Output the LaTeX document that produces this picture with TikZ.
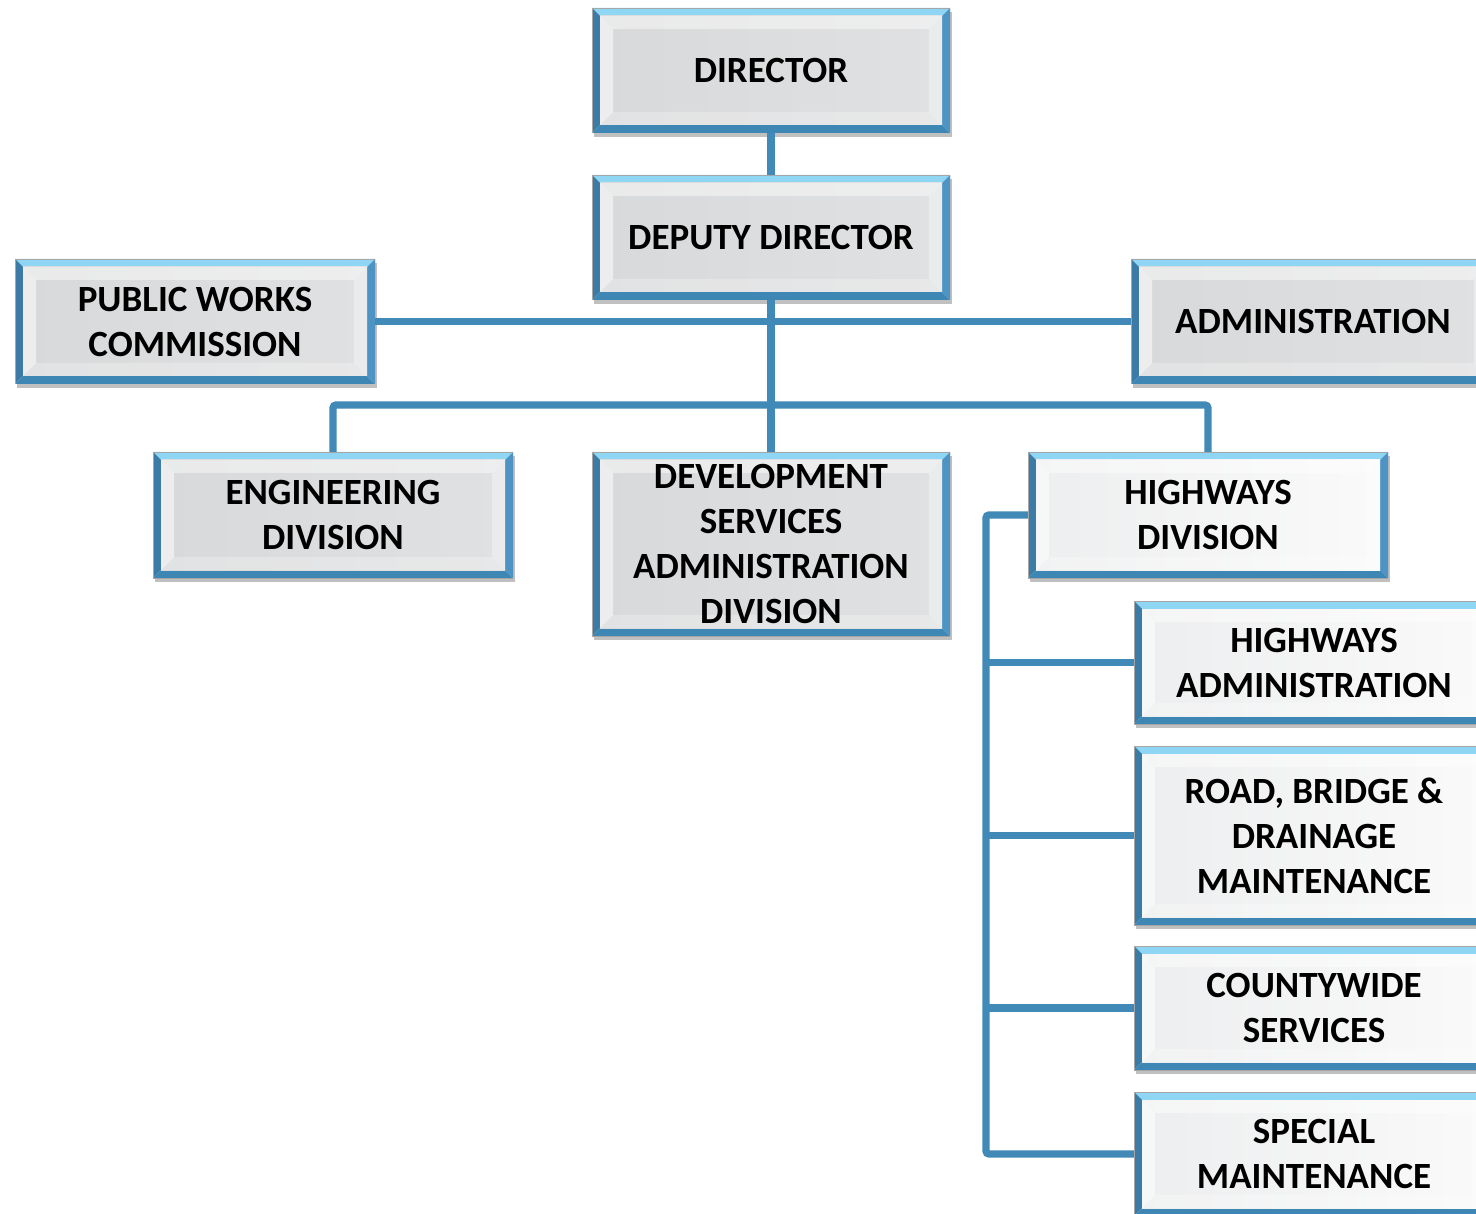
\documentclass[tikz,border=0pt]{standalone}
\usepackage{fontspec}
\setmainfont{Carlito}
\usetikzlibrary{shadows}
\definecolor{conncol}{HTML}{4189B6}
\definecolor{bvtop}{HTML}{8ED6F4}
\definecolor{bvleft}{HTML}{3B7BA5}
\definecolor{bvbot}{HTML}{3E86B3}
\definecolor{bvright}{HTML}{4D93C3}
\definecolor{graya}{HTML}{D8D9DA}
\definecolor{grayb}{HTML}{E0E1E2}
\definecolor{whitea}{HTML}{EDEEEF}
\definecolor{whiteb}{HTML}{FAFAFA}
\newcommand\mybevel[2]{%
  \path (path picture bounding box.south west) coordinate (bsw)
        (path picture bounding box.north east) coordinate (bne);
  \path (bsw|-bne) coordinate (bnw) (bne|-bsw) coordinate (bse);
  \path ([xshift=8pt,yshift=8pt]bsw) coordinate (isw)
        ([xshift=-8pt,yshift=-8pt]bne) coordinate (ine)
        ([xshift=8pt,yshift=-8pt]bnw) coordinate (inw)
        ([xshift=-8pt,yshift=8pt]bse) coordinate (ise);
  \path ([xshift=13pt,yshift=13pt]isw) coordinate (jsw)
        ([xshift=-13pt,yshift=-13pt]ine) coordinate (jne)
        ([xshift=13pt,yshift=-13pt]inw) coordinate (jnw)
        ([xshift=-13pt,yshift=13pt]ise) coordinate (jse);
  \fill[bvtop] (bnw) -- (bne) -- (ine) -- (inw) -- cycle;
  \fill[bvleft] (bnw) -- (inw) -- (isw) -- (bsw) -- cycle;
  \fill[bvbot] (bsw) -- (isw) -- (ise) -- (bse) -- cycle;
  \fill[bvright] (bse) -- (ise) -- (ine) -- (bne) -- cycle;
  \shade[left color=#1, right color=#2] (isw) rectangle (ine);
  \fill[white, opacity=0.45] (inw) -- (ine) -- (jne) -- (jnw) -- cycle;
  \fill[white, opacity=0.55] (inw) -- (jnw) -- (jsw) -- (isw) -- cycle;
  \fill[white, opacity=0.25] (isw) -- (jsw) -- (jse) -- (ise) -- cycle;
  \fill[white, opacity=0.35] (ise) -- (jse) -- (jne) -- (ine) -- cycle;
  \draw[black!35, line width=0.8pt] (bsw) rectangle (bne);
}
\tikzset{
  orgbox/.style={minimum width=360pt, minimum height=125pt, inner sep=0pt,
    align=center, text=black, font=\bfseries\fontsize{37}{45}\selectfont,
    fill=white,
    drop shadow={shadow xshift=2pt, shadow yshift=-4pt, opacity=0.35, fill=black!70}},
  graybox/.style={orgbox, path picture={\mybevel{graya}{grayb}}},
  lightbox/.style={orgbox, path picture={\mybevel{whitea}{whiteb}}},
  conn/.style={draw=conncol, line width=7.3pt, rounded corners=3pt}
}
\begin{document}
\begin{tikzpicture}[x=1pt, y=-1pt]
\clip (0,0) rectangle (1476,1214);
\fill[white] (0,0) rectangle (1476,1214);
\coordinate (bar) at (771,405);
\coordinate (hbus) at (986,515);
\node[graybox, minimum width=358pt] (dir) at (771,70.5) {DIRECTOR};
\node[graybox, minimum width=358pt] (dep) at (771,237.5) {DEPUTY DIRECTOR};
\node[graybox] (pwc) at (195,321.5) {PUBLIC WORKS\\COMMISSION};
\node[graybox, minimum width=364pt] (adm) at (1313,321.5) {ADMINISTRATION};
\node[graybox, minimum height=126pt] (eng) at (333,515) {ENGINEERING\\DIVISION};
\node[graybox, minimum width=358pt, minimum height=184pt] (dev) at (771,544) {DEVELOPMENT\\SERVICES\\ADMINISTRATION\\DIVISION};
\node[lightbox, minimum height=126pt] (hwy) at (1208,515) {HIGHWAYS\\DIVISION};
\node[lightbox, minimum height=123pt] (hadm) at (1314,662.5) {HIGHWAYS\\ADMINISTRATION};
\node[lightbox, minimum height=179pt] (road) at (1314,835.5) {ROAD, BRIDGE \&\\DRAINAGE\\MAINTENANCE};
\node[lightbox, minimum height=124pt] (cw) at (1314,1008) {COUNTYWIDE\\SERVICES};
\node[lightbox, minimum height=124pt] (spec) at (1314,1154) {SPECIAL\\MAINTENANCE};
\draw[conn] (dir.south) -- (dep.north);
\draw[conn] (dep.south) -- (dev.north);
\draw[conn] (pwc.east) -- (adm.west);
\draw[conn] (eng.north) |- (bar) -| (hwy.north);
\draw[conn] (hwy.west) -- (hbus) |- (spec.west);
\draw[conn] (hadm.west) -- (hadm.west -| hbus);
\draw[conn] (road.west) -- (road.west -| hbus);
\draw[conn] (cw.west) -- (cw.west -| hbus);
\end{tikzpicture}
\end{document}
